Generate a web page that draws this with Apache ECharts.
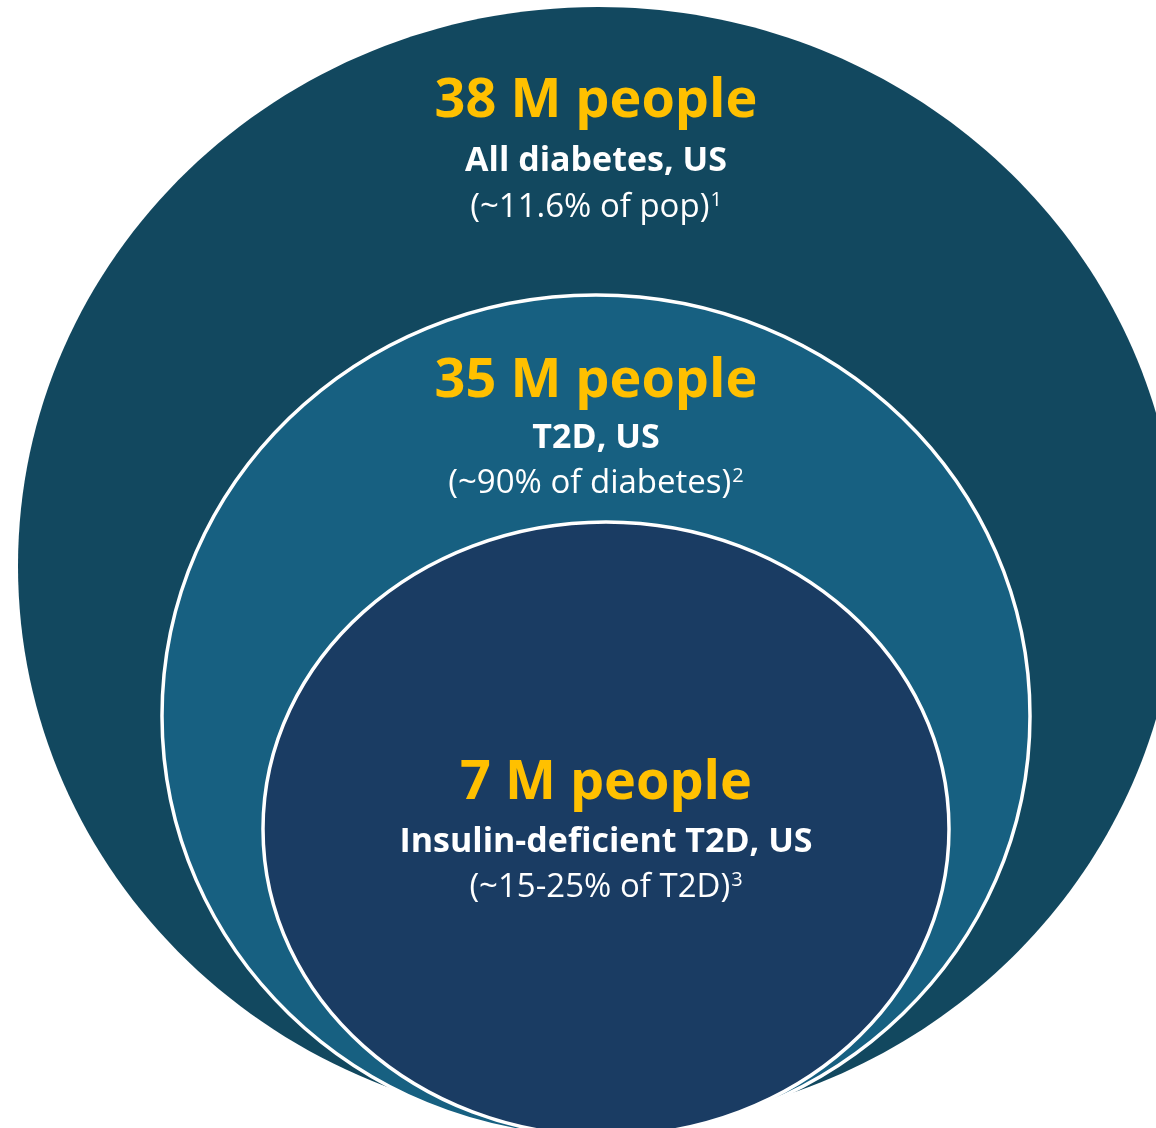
<!DOCTYPE html>
<html>
<head>
<meta charset="utf-8">
<script src="https://cdn.jsdelivr.net/npm/echarts@6/dist/echarts.min.js"></script>
<style>
  html, body { margin: 0; padding: 0; background: #ffffff; }
  #chart { width: 1156px; height: 1128px; }
</style>
</head>
<body>
<div id="chart"></div>
<script>
// Nested population groups, outermost first
const groups = ['All diabetes, US', 'T2D, US', 'Insulin-deficient T2D, US'];
const peopleMillions = [38, 35, 7];
const shareNotes = ['~11.6% of pop', '~90% of diabetes', '~15-25% of T2D'];
const footnoteRefs = ['1', '2', '3'];

// Ellipse geometry and label rows, in canvas units (x 0..1156, y 0..1128 downward)
const shapes = [
  { cx: 598, cy: 566, rx: 580, ry: 559, fill: '#12485f', stroke: null, labelX: 596, rows: [102, 161, 208] },
  { cx: 596, cy: 716, rx: 434, ry: 421, fill: '#176081', stroke: '#ffffff', labelX: 596, rows: [382, 438, 484] },
  { cx: 606, cy: 829, rx: 343, ry: 307, fill: '#1a3c63', stroke: '#ffffff', labelX: 606, rows: [784, 842, 888] }
];

const FONT = '"Open Sans", "Noto Sans", sans-serif';
const GOLD = '#ffc000';

function renderItem(params, api) {
  const i = api.value(0);
  const s = shapes[i];
  const c = api.coord([s.cx, s.cy]);
  const r = api.size([s.rx * 2, s.ry * 2], [s.cx, s.cy]);
  const lx = api.coord([s.labelX, 0])[0];
  const ys = s.rows.map(function (y) { return api.coord([0, y])[1]; });

  return {
    type: 'group',
    children: [
      {
        type: 'ellipse',
        shape: { cx: c[0], cy: c[1], rx: r[0] / 2, ry: r[1] / 2 },
        style: { fill: s.fill, stroke: s.stroke, lineWidth: s.stroke ? 3.5 : 0 }
      },
      {
        type: 'text',
        x: lx, y: ys[0],
        style: {
          text: api.value(1) + ' M people',
          fill: GOLD, fontFamily: FONT, fontWeight: 'bold', fontSize: 54,
          align: 'center', verticalAlign: 'middle'
        }
      },
      {
        type: 'text',
        x: lx, y: ys[1],
        style: {
          text: groups[i],
          fill: '#ffffff', fontFamily: FONT, fontWeight: 'bold', fontSize: 34,
          align: 'center', verticalAlign: 'middle'
        }
      },
      {
        type: 'text',
        x: lx, y: ys[2],
        style: {
          text: '{n|(' + shareNotes[i] + ')}{s|' + footnoteRefs[i] + '}',
          align: 'center', verticalAlign: 'middle',
          rich: {
            n: { fill: '#ffffff', fontFamily: FONT, fontSize: 33, lineHeight: 42 },
            s: { fill: '#ffffff', fontFamily: FONT, fontSize: 20, lineHeight: 20, padding: [0, 0, 16, 1] }
          }
        }
      }
    ]
  };
}

const chart = echarts.init(document.getElementById('chart'), null, { renderer: 'canvas' });
chart.setOption({
  animation: false,
  backgroundColor: '#ffffff',
  grid: { left: 0, right: 0, top: 0, bottom: 0 },
  xAxis: { type: 'value', min: 0, max: 1156, show: false },
  yAxis: { type: 'value', min: 0, max: 1128, inverse: true, show: false },
  series: [{
    type: 'custom',
    renderItem: renderItem,
    clip: false,
    encode: { x: 0, y: 1 },
    data: peopleMillions.map(function (v, i) { return [i, v]; })
  }]
});
</script>
</body>
</html>
